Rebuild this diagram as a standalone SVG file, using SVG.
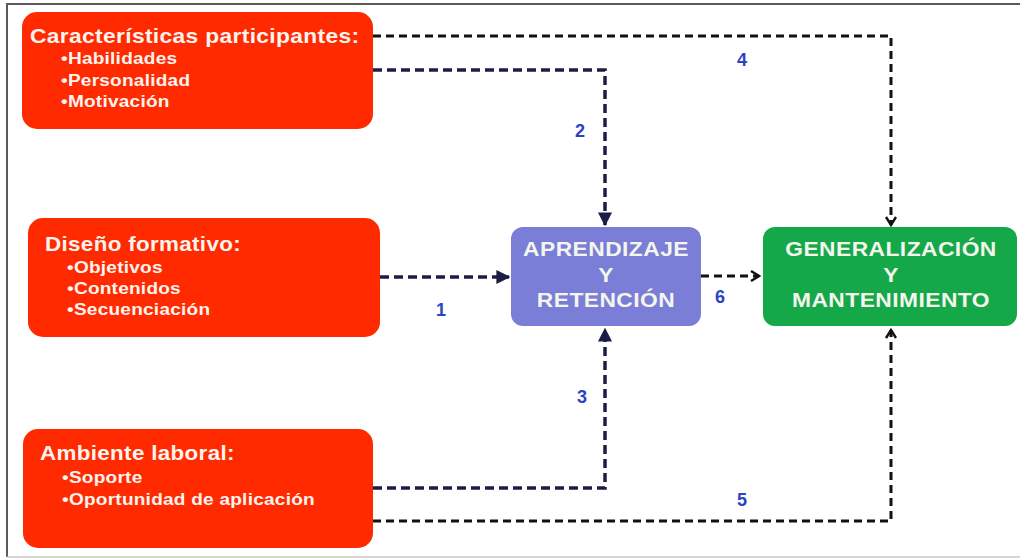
<svg xmlns="http://www.w3.org/2000/svg" width="1020" height="559" viewBox="0 0 1020 559">
  <defs>
    <marker id="tri" viewBox="0 0 10 10" refX="9" refY="5" markerWidth="4" markerHeight="4" markerUnits="strokeWidth" orient="auto">
      <path d="M0,0 L10,5 L0,10 Z" fill="#1c1d45"/>
    </marker>
    <marker id="open" viewBox="0 0 12 12" refX="10" refY="6" markerWidth="4" markerHeight="4" markerUnits="strokeWidth" orient="auto">
      <path d="M2,1 L10,6 L2,11" fill="none" stroke="#111" stroke-width="2.4" stroke-linejoin="miter"/>
    </marker>
    <style>
      .src { fill: #ff2a00; }
      text { font-family: "Liberation Sans", Arial, sans-serif; font-weight: bold; }
      .title { font-size: 20px; letter-spacing: 0.3px; fill: #fff3ef; }
      .item { font-size: 16px; letter-spacing: 0.2px; fill: #fff3ef; }
      .big { font-size: 20px; letter-spacing: 0.4px; fill: #f4f6ee; text-anchor: middle; }
      .num { font-size: 18px; fill: #2b43c4; text-anchor: middle; }
      .navy { fill: none; stroke: #1c1d45; stroke-width: 3.5; stroke-dasharray: 9 5; marker-end: url(#tri); }
      .black { fill: none; stroke: #111; stroke-width: 3; stroke-dasharray: 8 5; marker-end: url(#open); }
    </style>
  </defs>

  <rect width="1020" height="559" fill="#ffffff"/>

  <!-- frame -->
  <path d="M7,557 L7,4 L1020,4" fill="none" stroke="#5a5a5a" stroke-width="2"/>
  <line x1="7" y1="557" x2="1020" y2="557" stroke="#c8c8c8" stroke-width="1.5"/>

  <!-- connectors -->
  <g id="connectors">
    <path class="black" d="M373,36 H891 V225"/>
    <path class="navy" d="M373,70 H605 V225"/>
    <path class="navy" d="M380,277 H509"/>
    <path class="black" d="M701,276 H759"/>
    <path class="navy" d="M373,488 H605 V329"/>
    <path class="black" d="M373,521 H891 V330"/>
    <text class="num" x="742" y="66">4</text>
    <text class="num" x="580" y="137">2</text>
    <text class="num" x="441" y="316">1</text>
    <text class="num" x="720" y="303">6</text>
    <text class="num" x="582" y="403">3</text>
    <text class="num" x="742" y="506">5</text>
  </g>

  <!-- source boxes: wide lettering drawn with a horizontal stretch -->
  <g id="participantes">
    <rect class="src" x="22" y="12" width="351" height="117" rx="15"/>
    <g transform="translate(30,43) scale(1.14,1)">
      <text class="title" x="0" y="0">Características participantes:</text>
    </g>
    <g transform="translate(61,0) scale(1.19,1)">
      <text class="item" x="0" y="64">•Habilidades</text>
      <text class="item" x="0" y="86">•Personalidad</text>
      <text class="item" x="0" y="107">•Motivación</text>
    </g>
  </g>

  <g id="diseno">
    <rect class="src" x="28" y="218" width="352" height="119" rx="15"/>
    <g transform="translate(45,251) scale(1.12,1)">
      <text class="title" x="0" y="0">Diseño formativo:</text>
    </g>
    <g transform="translate(67,0) scale(1.19,1)">
      <text class="item" x="0" y="273">•Objetivos</text>
      <text class="item" x="0" y="294">•Contenidos</text>
      <text class="item" x="0" y="315">•Secuenciación</text>
    </g>
  </g>

  <g id="ambiente">
    <rect class="src" x="23" y="429" width="350" height="119" rx="15"/>
    <g transform="translate(40,460) scale(1.12,1)">
      <text class="title" x="0" y="0">Ambiente laboral:</text>
    </g>
    <g transform="translate(62,0) scale(1.19,1)">
      <text class="item" x="0" y="483">•Soporte</text>
      <text class="item" x="0" y="505">•Oportunidad de aplicación</text>
    </g>
  </g>

  <g id="aprendizaje">
    <rect x="511" y="227" width="190" height="99" rx="12" fill="#7a7ed6"/>
    <g transform="translate(606,0) scale(1.14,1)">
      <text class="big" x="0" y="256">APRENDIZAJE</text>
      <text class="big" x="0" y="282">Y</text>
      <text class="big" x="0" y="307">RETENCIÓN</text>
    </g>
  </g>

  <g id="generalizacion">
    <rect x="763" y="227" width="254" height="99" rx="12" fill="#14a849"/>
    <g transform="translate(891,0) scale(1.14,1)">
      <text class="big" x="0" y="256">GENERALIZACIÓN</text>
      <text class="big" x="0" y="282">Y</text>
      <text class="big" x="0" y="307">MANTENIMIENTO</text>
    </g>
  </g>
</svg>
